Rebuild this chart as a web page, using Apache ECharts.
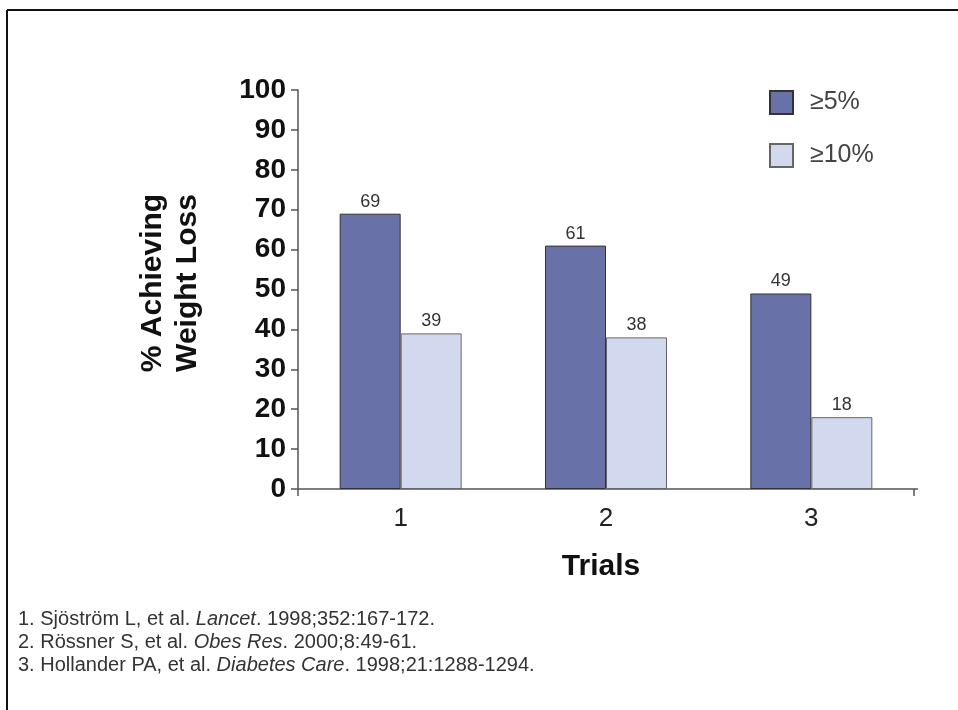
<!DOCTYPE html>
<html>
<head>
<meta charset="utf-8">
<script src="https://cdn.jsdelivr.net/npm/echarts@6/dist/echarts.min.js"></script>
<style>
html,body{margin:0;padding:0;background:#fff;}
#chart{width:958px;height:710px;}
</style>
</head>
<body>
<div id="chart"></div>
<script>
const categories = ['1', '2', '3'];
const seriesNames = ['\u22655%', '\u226510%'];
const values5 = [69, 61, 49];
const values10 = [39, 38, 18];
const yTicks = [0, 10, 20, 30, 40, 50, 60, 70, 80, 90, 100];
const footnotes = [
  ['1. Sj\u00f6str\u00f6m L, et al. ', 'Lancet', '. 1998;352:167-172.'],
  ['2. R\u00f6ssner S, et al. ', 'Obes Res', '. 2000;8:49-61.'],
  ['3. Hollander PA, et al. ', 'Diabetes Care', '. 1998;21:1288-1294.']
];

const chart = echarts.init(document.getElementById('chart'));
const FONT = 'Liberation Sans, Arial, sans-serif';

const footGraphics = footnotes.map((f, i) => ({
  type: 'text',
  left: 18,
  top: 609 + i * 23,
  style: {
    text: '{n|' + f[0] + '}{it|' + f[1] + '}{n|' + f[2] + '}',
    rich: {
      n: {fontSize: 20, fontFamily: FONT, fill: '#333'},
      it: {fontSize: 20, fontFamily: FONT, fill: '#333', fontStyle: 'italic'}
    }
  }
}));

chart.setOption({
  animation: false,
  backgroundColor: '#fff',
  grid: {left: 298, right: 44, top: 90, bottom: 221, containLabel: false},
  legend: {
    orient: 'vertical',
    left: 764,
    top: 85,
    itemWidth: 23,
    itemHeight: 23,
    itemGap: 28,
    icon: 'rect',
    data: seriesNames,
    textStyle: {fontSize: 25, fontFamily: FONT, color: '#444', padding: [0, 0, 0, 12]}
  },
  xAxis: [{
    type: 'category',
    data: categories,
    axisLine: {lineStyle: {color: '#555', width: 1.5}},
    axisTick: {show: false},
    axisLabel: {fontSize: 26, fontFamily: FONT, color: '#222', margin: 17}
  }, {
    type: 'value',
    min: 0, max: 3, interval: 3,
    position: 'bottom',
    axisLine: {show: false},
    axisTick: {show: true, length: 7, lineStyle: {color: '#555', width: 1.5}},
    axisLabel: {show: false},
    splitLine: {show: false}
  }],
  yAxis: {
    type: 'value',
    min: yTicks[0],
    max: yTicks[yTicks.length - 1],
    interval: yTicks[1] - yTicks[0],
    axisLine: {show: true, lineStyle: {color: '#555', width: 1.5}},
    axisTick: {show: true, length: 7, lineStyle: {color: '#555', width: 1.5}},
    splitLine: {show: false},
    axisLabel: {fontSize: 28, fontWeight: 'bold', fontFamily: FONT, color: '#111', margin: 12}
  },
  series: [{
    name: seriesNames[0],
    type: 'bar',
    data: values5,
    barWidth: 61,
    barGap: '0%',
    itemStyle: {color: '#6872a8', borderColor: '#333', borderWidth: 1},
    label: {show: true, position: 'top', distance: 3, fontSize: 18, fontFamily: FONT, color: '#333'}
  }, {
    name: seriesNames[1],
    type: 'bar',
    data: values10,
    barWidth: 61,
    barGap: '0%',
    itemStyle: {color: '#d2d8ee', borderColor: '#666', borderWidth: 1},
    label: {show: true, position: 'top', distance: 3, fontSize: 18, fontFamily: FONT, color: '#333'}
  }],
  graphic: [
    {type: 'line', shape: {x1: 7, y1: 10, x2: 958, y2: 10}, style: {stroke: '#111', lineWidth: 2}},
    {type: 'line', shape: {x1: 7, y1: 10, x2: 7, y2: 710}, style: {stroke: '#111', lineWidth: 2}},
    {type: 'line', shape: {x1: 914, y1: 489, x2: 918, y2: 489}, style: {stroke: '#555', lineWidth: 1.5}},
    {
      type: 'text',
      x: 170, y: 283,
      rotation: Math.PI / 2,
      style: {
        text: '% Achieving\nWeight Loss',
        fontSize: 30, fontWeight: 'bold', fontFamily: FONT, fill: '#111',
        lineHeight: 35, align: 'center', verticalAlign: 'middle'
      }
    },
    {
      type: 'text',
      x: 601, y: 567,
      style: {
        text: 'Trials',
        fontSize: 30, fontWeight: 'bold', fontFamily: FONT, fill: '#111',
        align: 'center', verticalAlign: 'middle'
      }
    }
  ].concat(footGraphics)
});
</script>
</body>
</html>
